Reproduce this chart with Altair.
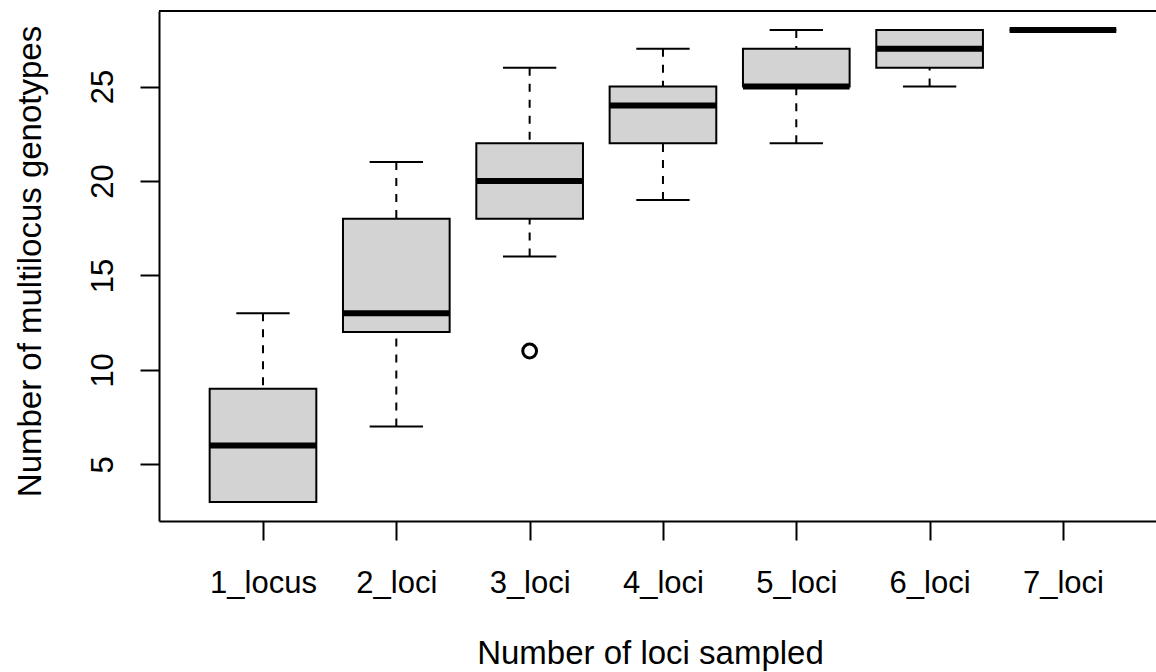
import json
import altair as alt
import pandas as pd

# ---- data ----
categories = ["1_locus", "2_loci", "3_loci", "4_loci", "5_loci", "6_loci", "7_loci"]
lower_whisker = [3, 7, 16, 19, 22, 25, 28]
q1 = [3, 12, 18, 22, 25, 26, 28]
median = [6, 13, 20, 24, 25, 27, 28]
q3 = [9, 18, 22, 25, 27, 28, 28]
upper_whisker = [13, 21, 26, 27, 28, 28, 28]
outlier_groups = ["3_loci"]
outlier_values = [11]
y_ticks = [5, 10, 15, 20, 25]

x_title = "Number of loci sampled"
y_title = "Number of multilocus genotypes"

positions = list(range(1, len(categories) + 1))
df = pd.DataFrame({
    "cat": categories, "pos": positions, "lw": lower_whisker, "q1": q1,
    "med": median, "q3": q3, "uw": upper_whisker,
})
pos_of = {c: i + 1 for i, c in enumerate(categories)}
out_df = pd.DataFrame({"cat": outlier_groups, "val": outlier_values})
out_df["pos"] = out_df["cat"].map(pos_of)

FONT = "Liberation Sans"
FS = 31
TFS = 33
W = 997
H = 510
PAD_L, PAD_T = 159, 11

xscale = alt.Scale(domain=[0.22, 7.698], nice=False, zero=False)
yscale = alt.Scale(domain=[2, 29], nice=False, zero=False)
label_expr = json.dumps(categories) + "[round(datum.value) - 1]"

xaxis = alt.Axis(
    values=positions, labelExpr=label_expr, grid=False,
    tickSize=19, tickWidth=2, tickColor="black",
    domainColor="black", domainWidth=2,
    labelFont=FONT, labelFontSize=FS, labelColor="black",
    labelBaseline="alphabetic", labelPadding=52, labelAlign="center",
    labelOverlap=False, labelFlush=False,
    title=x_title, titleFont=FONT, titleFontSize=TFS, titleFontWeight="normal",
    titleColor="black", titleBaseline="alphabetic", titleAlign="center",
    titleX=491, titleY=142,
)
yaxis = alt.Axis(
    values=y_ticks, grid=False,
    tickSize=19, tickWidth=2, tickColor="black",
    domainColor="black", domainWidth=2,
    labelFont=FONT, labelFontSize=FS, labelColor="black",
    labelAngle=270, labelAlign="center", labelBaseline="alphabetic",
    labelPadding=28, labelOverlap=False, labelFlush=False,
    title=y_title, titleFont=FONT, titleFontSize=TFS, titleFontWeight="normal",
    titleColor="black", titleAngle=270, titleBaseline="alphabetic",
    titleAlign="center", titleX=-119, titleY=250,
)

base = alt.Chart(df).transform_calculate(
    xlo="datum.pos - 0.4", xhi="datum.pos + 0.4",
    clo="datum.pos - 0.2", chi="datum.pos + 0.2",
)

whisk_up = base.mark_rule(color="black", strokeWidth=2, strokeDash=[8, 8]).encode(
    x=alt.X("pos:Q", scale=xscale, axis=xaxis),
    y=alt.Y("uw:Q", scale=yscale, axis=yaxis),
    y2="q3:Q",
)
whisk_lo = base.mark_rule(color="black", strokeWidth=2, strokeDash=[8, 8]).encode(
    x=alt.X("pos:Q", scale=xscale, axis=xaxis),
    y=alt.Y("lw:Q", scale=yscale, axis=yaxis),
    y2="q1:Q",
)
cap_up = base.mark_rule(color="black", strokeWidth=2).encode(
    x=alt.X("clo:Q", scale=xscale, axis=xaxis), x2="chi:Q",
    y=alt.Y("uw:Q", scale=yscale, axis=yaxis),
)
cap_lo = base.mark_rule(color="black", strokeWidth=2).encode(
    x=alt.X("clo:Q", scale=xscale, axis=xaxis), x2="chi:Q",
    y=alt.Y("lw:Q", scale=yscale, axis=yaxis),
)
boxes = base.mark_rect(fill="#D3D3D3", stroke="black", strokeWidth=2).encode(
    x=alt.X("xlo:Q", scale=xscale, axis=xaxis), x2="xhi:Q",
    y=alt.Y("q1:Q", scale=yscale, axis=yaxis), y2="q3:Q",
)
meds = base.mark_rule(color="black", strokeWidth=6, strokeCap="butt").encode(
    x=alt.X("xlo:Q", scale=xscale, axis=xaxis), x2="xhi:Q",
    y=alt.Y("med:Q", scale=yscale, axis=yaxis),
)
outs = alt.Chart(out_df).mark_point(
    shape="circle", filled=False, size=190, strokeWidth=3, color="black", opacity=1
).encode(
    x=alt.X("pos:Q", scale=xscale, axis=xaxis),
    y=alt.Y("val:Q", scale=yscale, axis=yaxis),
)
top_border = alt.Chart(pd.DataFrame({"k": [0]})).mark_rule(
    color="black", strokeWidth=2
).encode(x=alt.value(0), x2=alt.value(W), y=alt.value(0))

chart = alt.layer(
    whisk_up, whisk_lo, cap_up, cap_lo, boxes, meds, outs, top_border
).properties(
    width=W, height=H,
    autosize=alt.AutoSizeParams(type="none"),
    padding={"left": PAD_L, "top": PAD_T, "right": 0, "bottom": 672 - PAD_T - H},
    background="white",
).configure_view(stroke=None)

chart.save("out.html", embed_options={"renderer": "svg", "actions": False})
